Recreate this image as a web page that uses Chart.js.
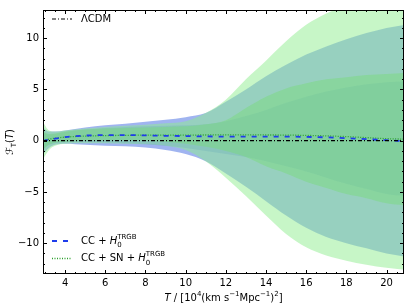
<!DOCTYPE html>
<html>
<head>
<meta charset="UTF-8">
<script src="https://cdn.jsdelivr.net/npm/chart.js"></script>
<style>
  html, body { margin: 0; padding: 0; background: #fff; }
</style>
</head>
<body>
<canvas id="chart" width="411" height="306"></canvas>
<script>
// sample points along T (units of 10^4 (km/s/Mpc)^2)
const T = [2.9, 3.2, 3.5, 4, 5, 6, 7, 8, 9, 10, 11, 12, 13, 14, 15, 16, 17, 18, 19, 20, 20.9];

// mean reconstructions
const lcdm   = [0, 0, 0, 0, 0, 0, 0, 0, 0, 0, 0, 0, 0, 0, 0, 0, 0, 0, 0, 0, 0];
const ccMean = [0, 0.1, 0.2, 0.35, 0.5, 0.55, 0.55, 0.52, 0.48, 0.45, 0.42, 0.4, 0.4, 0.4, 0.4, 0.37, 0.33, 0.25, 0.15, 0.05, -0.05];
const snMean = [0.05, 0.15, 0.25, 0.35, 0.45, 0.5, 0.52, 0.55, 0.55, 0.55, 0.56, 0.57, 0.57, 0.56, 0.55, 0.52, 0.47, 0.4, 0.3, 0.2, 0.15];

// CC + H0 bands (2 sigma, 1 sigma)
const cc2Lo = [-1.3, -0.7, -0.4, -0.3, -0.4, -0.5, -0.55, -0.65, -0.9, -1.3, -2.0, -3.2, -4.5, -5.9, -7.3, -8.5, -9.4, -10.0, -10.5, -11.0, -11.3];
const cc2Hi = [1.3, 0.9, 0.9, 1.0, 1.3, 1.5, 1.65, 1.85, 2.05, 2.3, 2.7, 3.8, 5.0, 6.3, 7.4, 8.4, 9.2, 9.9, 10.5, 11.0, 11.3];
const cc1Lo = [-0.8, -0.4, -0.25, -0.15, -0.1, -0.15, -0.25, -0.35, -0.5, -0.7, -1.0, -1.3, -1.6, -2.0, -2.5, -3.0, -3.6, -4.2, -4.7, -5.2, -5.4];
const cc1Hi = [0.8, 0.6, 0.65, 0.85, 1.1, 1.25, 1.35, 1.4, 1.45, 1.5, 1.6, 1.9, 2.4, 3.0, 3.7, 4.3, 4.8, 5.2, 5.5, 5.7, 5.8];

// CC + SN + H0 bands
const sn2Lo = [-1.8, -0.9, -0.5, -0.3, -0.25, -0.25, -0.3, -0.35, -0.5, -0.9, -2.0, -3.6, -5.4, -7.3, -9.1, -10.4, -11.2, -11.7, -12.1, -12.4, -12.6];
const sn2Hi = [1.8, 1.0, 0.9, 1.0, 1.2, 1.35, 1.45, 1.55, 1.7, 1.9, 2.7, 4.0, 6.0, 7.8, 9.7, 11.3, 12.4, 13.2, 13.7, 14.0, 14.2];
const sn1Lo = [-0.9, -0.4, -0.2, -0.1, 0.0, 0.05, 0.05, 0.0, -0.1, -0.3, -0.6, -1.0, -1.6, -2.5, -3.2, -4.0, -4.6, -5.2, -5.6, -6.1, -6.3];
const sn1Hi = [0.9, 0.65, 0.7, 0.9, 1.1, 1.2, 1.25, 1.3, 1.35, 1.4, 1.6, 2.0, 3.2, 4.3, 5.1, 5.6, 6.0, 6.2, 6.4, 6.5, 6.6];

const xTicks = [4, 6, 8, 10, 12, 14, 16, 18, 20];
const yTicks = [-10, -5, 0, 5, 10];

const FONT = '"DejaVu Sans", sans-serif';
const pts = arr => T.map((t, i) => ({ x: t, y: arr[i] }));

function band(lo, hi, color, order) {
  const common = { pointRadius: 0, borderWidth: 0, borderColor: 'transparent', order, tension: 0.4, cubicInterpolationMode: 'monotone' };
  return [
    { ...common, data: pts(lo), fill: false },
    { ...common, data: pts(hi), fill: '-1', backgroundColor: color }
  ];
}

const lineStyle = { pointRadius: 0, fill: false, order: 0, cubicInterpolationMode: 'monotone' };
const lines = [
  { ...lineStyle, label: 'ΛCDM', data: pts(lcdm), borderColor: '#000', borderWidth: 1.2, borderDash: [4, 2, 1, 2] },
  { ...lineStyle, label: 'CC + H0', data: pts(ccMean), borderColor: 'rgb(30,60,235)', borderWidth: 1.8, borderDash: [5, 6] },
  { ...lineStyle, label: 'CC + SN + H0', data: pts(snMean), borderColor: '#2ca02c', borderWidth: 1.3, borderDash: [1, 1.5] }
];

const datasets = [
  ...band(cc2Lo, cc2Hi, 'rgba(65,105,225,0.5)', 4),
  ...band(cc1Lo, cc1Hi, 'rgba(65,105,225,0.3)', 3),
  ...band(sn2Lo, sn2Hi, 'rgba(144,238,144,0.5)', 2),
  ...band(sn1Lo, sn1Hi, 'rgba(120,220,120,0.45)', 1),
  ...lines
];

// draws text pieces: {t, i} normal/italic, {sup}, {sub, sup}
function richWidth(ctx, parts, size) {
  let w = 0;
  for (const p of parts) {
    if (p.sub !== undefined || p.sup !== undefined) {
      ctx.font = (size * 0.7) + 'px ' + FONT;
      w += Math.max(p.sub ? ctx.measureText(p.sub).width : 0, p.sup ? ctx.measureText(p.sup).width : 0);
    } else {
      ctx.font = (p.i ? 'italic ' : '') + size + 'px ' + FONT;
      w += ctx.measureText(p.t).width;
    }
  }
  return w;
}
function drawRich(ctx, parts, x, y, size) {
  ctx.textBaseline = 'middle';
  ctx.textAlign = 'left';
  for (const p of parts) {
    if (p.sub !== undefined || p.sup !== undefined) {
      ctx.font = (size * 0.7) + 'px ' + FONT;
      let w = 0;
      if (p.sup) { ctx.fillText(p.sup, x, y - size * 0.42); w = ctx.measureText(p.sup).width; }
      if (p.sub) { ctx.fillText(p.sub, x, y + size * 0.45); w = Math.max(w, ctx.measureText(p.sub).width); }
      x += w;
    } else {
      ctx.font = (p.i ? 'italic ' : '') + size + 'px ' + FONT;
      ctx.fillText(p.t, x, y);
      x += ctx.measureText(p.t).width;
    }
  }
}

const decorations = {
  id: 'decorations',
  afterDraw(chart) {
    const { ctx, chartArea: a, scales: { x, y } } = chart;
    ctx.save();
    ctx.strokeStyle = '#000';
    ctx.lineWidth = 1;
    ctx.strokeRect(a.left + 0.5, a.top + 0.5, a.right - a.left - 1, a.bottom - a.top - 1);

    // inward ticks on all sides
    ctx.beginPath();
    for (let v = 3; v <= 20.5; v += 0.5) {
      const px = Math.round(x.getPixelForValue(v)) + 0.5;
      const len = v % 2 === 0 ? 4 : 2;
      ctx.moveTo(px, a.bottom); ctx.lineTo(px, a.bottom - len);
      ctx.moveTo(px, a.top); ctx.lineTo(px, a.top + len);
    }
    for (let v = -12; v <= 12; v += 1) {
      const py = Math.round(y.getPixelForValue(v)) + 0.5;
      const len = v % 5 === 0 ? 4 : 2;
      ctx.moveTo(a.left, py); ctx.lineTo(a.left + len, py);
      ctx.moveTo(a.right, py); ctx.lineTo(a.right - len, py);
    }
    ctx.stroke();

    // legend
    ctx.fillStyle = '#000';
    const entries = [
      { ds: lines[0], y: 19, parts: [{ t: 'ΛCDM' }] },
      { ds: lines[1], y: 241, parts: [{ t: 'CC + ' }, { t: 'H', i: true }, { sub: '0', sup: 'TRGB' }] },
      { ds: lines[2], y: 258.5, parts: [{ t: 'CC + SN + ' }, { t: 'H', i: true }, { sub: '0', sup: 'TRGB' }] }
    ];
    for (const e of entries) {
      ctx.save();
      ctx.strokeStyle = e.ds.borderColor;
      ctx.lineWidth = e.ds.borderWidth;
      ctx.setLineDash(e.ds.borderDash);
      ctx.beginPath();
      ctx.moveTo(52, e.y); ctx.lineTo(72, e.y);
      ctx.stroke();
      ctx.restore();
      drawRich(ctx, e.parts, 81, e.y, 10);
    }

    // x axis title
    const xt = [{ t: 'T', i: true }, { t: ' / [10' }, { sup: '4' }, { t: '(km s' }, { sup: '−1' }, { t: 'Mpc' }, { sup: '−1' }, { t: ')' }, { sup: '2' }, { t: ']' }];
    const w = richWidth(ctx, xt, 10);
    drawRich(ctx, xt, (a.left + a.right) / 2 - w / 2, 298, 10);

    // y axis title
    ctx.translate(10, (a.top + a.bottom) / 2);
    ctx.rotate(-Math.PI / 2);
    const yt = [{ t: 'ℱ', i: true }, { sub: 'T' }, { t: '(' }, { t: 'T', i: true }, { t: ')' }];
    const wy = richWidth(ctx, yt, 10);
    drawRich(ctx, yt, -wy / 2, 0, 10);
    ctx.restore();
  }
};

new Chart(document.getElementById('chart'), {
  type: 'line',
  data: { datasets },
  options: {
    responsive: false,
    animation: false,
    events: [],
    layout: { padding: { top: 5, right: 7, left: 0, bottom: 0 } },
    plugins: { legend: { display: false }, tooltip: { enabled: false } },
    scales: {
      x: {
        type: 'linear', min: 2.9, max: 20.87,
        grid: { display: false, drawTicks: false },
        border: { display: false },
        afterBuildTicks: s => { s.ticks = xTicks.map(v => ({ value: v })); },
        afterFit: s => { s.height = 32; },
        ticks: { padding: 3, color: '#000', maxRotation: 0, font: { family: FONT, size: 10 } }
      },
      y: {
        type: 'linear', min: -13, max: 12.75,
        grid: { display: false, drawTicks: false },
        border: { display: false },
        afterBuildTicks: s => { s.ticks = yTicks.map(v => ({ value: v })); },
        afterFit: s => { s.width = 43; },
        ticks: { padding: 4, color: '#000', font: { family: FONT, size: 10 },
                 callback: v => (v < 0 ? '−' + Math.abs(v) : String(v)) }
      }
    }
  },
  plugins: [decorations]
});
</script>
</body>
</html>
